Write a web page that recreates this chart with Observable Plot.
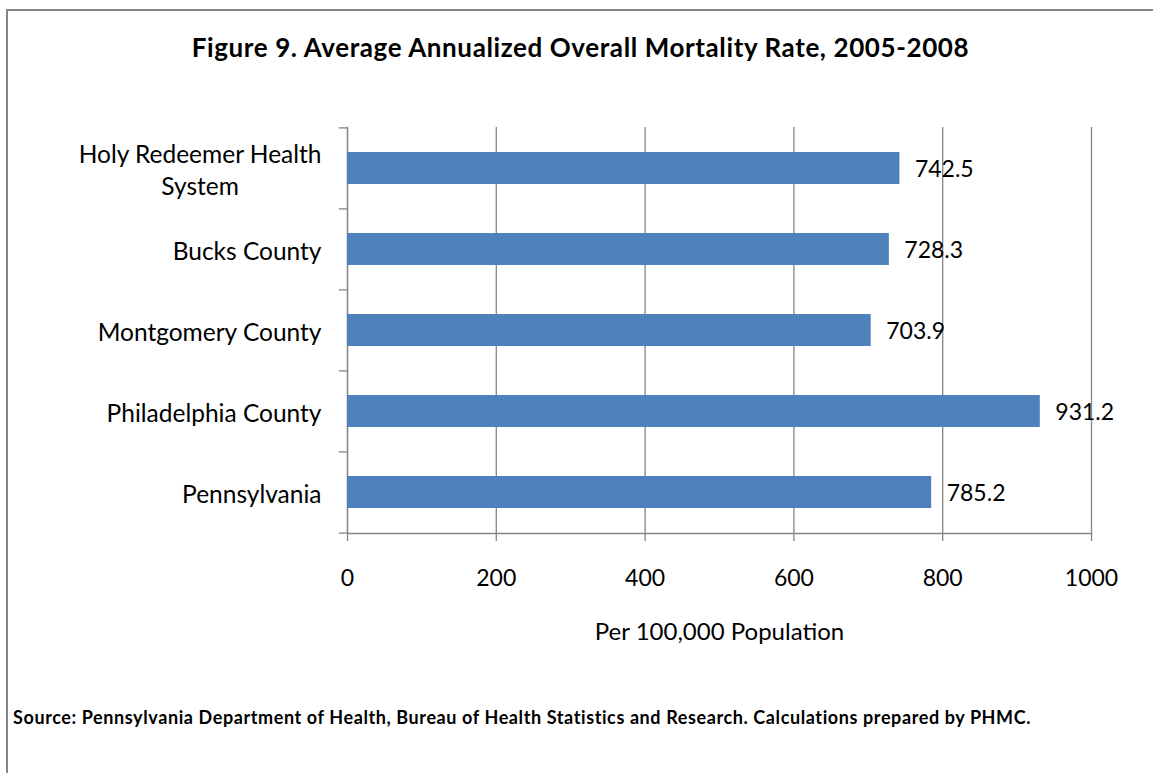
<!DOCTYPE html>
<html>
<head>
<meta charset="utf-8">
<script src="https://cdn.jsdelivr.net/npm/d3@7"></script>
<script src="https://cdn.jsdelivr.net/npm/@observablehq/plot@0.6"></script>
<style>
  html, body { margin: 0; padding: 0; background: #fff; }
  #wrap { position: relative; width: 1153px; height: 773px; overflow: hidden; font-family: Lato, sans-serif; }
  #frame { position: absolute; left: 6px; top: 9px; width: 1200px; height: 800px; border-left: 2px solid #868686; border-top: 2px solid #868686; box-sizing: border-box; }
  #title { position: absolute; left: 4px; width: 1153px; top: 31px; text-align: center; font-weight: bold; font-size: 26px; letter-spacing: 0.6px; color: #000; white-space: nowrap; }
  #caption { position: absolute; left: 13px; top: 706px; font-weight: bold; font-size: 18px; letter-spacing: 0.6px; color: #000; white-space: nowrap; }
  #chart { position: absolute; left: 0; top: 0; }
</style>
</head>
<body>
<div id="wrap">
  <div id="frame"></div>
  <div id="chart"></div>
  <div id="title">Figure 9. Average Annualized Overall Mortality Rate, 2005-2008</div>
  <div id="caption">Source: Pennsylvania Department of Health, Bureau of Health Statistics and Research. Calculations prepared by PHMC.</div>
</div>
<script>
const categories = ["Holy Redeemer Health\nSystem", "Bucks County", "Montgomery County", "Philadelphia County", "Pennsylvania"];
const values = [742.5, 728.3, 703.9, 931.2, 785.2];
const xTicks = [0, 200, 400, 600, 800, 1000];
const xLabel = "Per 100,000 Population";

const data = categories.map((c, i) => ({category: c, value: values[i]}));

const W = 1153, H = 773, mT = 127, mB = 240, mL = 347, mR = 62;
const step = (H - mT - mB) / categories.length;
const gray = "#868686";

const plot = Plot.plot({
  width: W,
  height: H,
  marginTop: mT,
  marginBottom: mB,
  marginLeft: mL,
  marginRight: mR,
  style: {fontFamily: "Lato, sans-serif", background: "transparent", color: "#000"},
  x: {domain: [0, 1000]},
  y: {domain: categories, paddingInner: 0.6, paddingOuter: 0.3},
  marks: [
    Plot.gridX(xTicks, {stroke: gray, strokeOpacity: 1, strokeWidth: 1.3}),
    Plot.frame({anchor: "left", stroke: gray, strokeWidth: 1.3}),
    Plot.frame({anchor: "bottom", stroke: gray, strokeWidth: 1.3}),
    Plot.barX(data, {x: "value", y: "category", fill: "#4F81BD"}),
    Plot.ruleY(data, {y: "category", x1: -11, x2: 0, dy: -step / 2, stroke: gray, strokeWidth: 1.3}),
    Plot.ruleY(data.slice(-1), {y: "category", x1: -11, x2: 0, dy: step / 2, stroke: gray, strokeWidth: 1.3}),
    Plot.text(data, {x: "value", y: "category", text: d => d.value.toFixed(1), textAnchor: "start", dx: 15, dy: 1, fontSize: 23, fill: "#000"}),
    Plot.axisX({ticks: xTicks, tickFormat: d => String(d), tickSize: 8, tickPadding: 28, fontSize: 23, stroke: gray, strokeWidth: 1.3, label: null}),
    Plot.text([xLabel], {text: d => d, frameAnchor: "bottom", lineAnchor: "middle", dy: 99, fontSize: 24, fill: "#000"}),
    Plot.axisY({tickSize: 0, tickPadding: 26, fontSize: 24.5, lineHeight: 1.3, label: null})
  ]
});

document.getElementById("chart").appendChild(plot);

// center multi-line category labels as a block (like the original)
plot.querySelectorAll("g[aria-label='y-axis tick label'] text").forEach(t => {
  const spans = t.querySelectorAll("tspan");
  if (spans.length > 1) {
    const w = t.getBBox().width;
    t.setAttribute("text-anchor", "middle");
    spans.forEach(s => s.setAttribute("x", String(-w / 2)));
  }
});
</script>
</body>
</html>
